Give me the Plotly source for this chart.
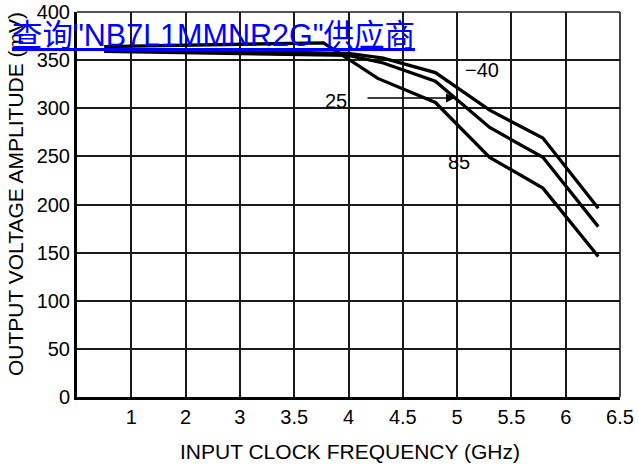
import numpy as np
import plotly.graph_objects as go

# ---- data ----
TICK_GHZ = [0, 1, 2, 3, 3.5, 4, 4.5, 5, 5.5, 6, 6.5]
TICK_LABELS = ["1", "2", "3", "3.5", "4", "4.5", "5", "5.5", "6", "6.5"]

freq_m40 = [0.5, 4.0, 4.32, 4.8, 5.3, 5.79, 6.3]
amp_m40 = [361, 357, 352, 337, 298, 269, 196]

freq_25 = [0.5, 4.0, 4.32, 4.8, 5.3, 5.79, 6.3]
amp_25 = [359, 355, 347, 328, 280, 249, 177]

freq_85 = [0.5, 3.77, 4.27, 4.8, 5.3, 5.79, 6.3]
amp_85 = [364, 368, 331, 306, 249, 217, 146]

Y_TICKS = [0, 50, 100, 150, 200, 250, 300, 350, 400]

POS = list(range(len(TICK_GHZ)))


def to_axis(f):
    # the chart's frequency axis is not linear: each labelled gridline is one step
    return np.interp(f, TICK_GHZ, POS)


W, H = 639, 468
L, R, T, B = 77, 19, 12, 71
PW, PH = W - L - R, H - T - B


def xp(px):
    return (px - L) / PW


def yp(py):
    return (H - B - py) / PH


FONT = "Liberation Sans, Arial, Helvetica, sans-serif"

fig = go.Figure()
for f, a, name in [(freq_m40, amp_m40, "-40"), (freq_25, amp_25, "25"), (freq_85, amp_85, "85")]:
    fig.add_trace(go.Scatter(x=to_axis(f), y=a, mode="lines", name=name,
                             line=dict(color="black", width=3.3), showlegend=False,
                             hoverinfo="skip"))

fig.update_layout(
    width=W, height=H,
    margin=dict(l=L, r=R, t=T, b=B, pad=0, autoexpand=False),
    paper_bgcolor="white", plot_bgcolor="white",
    font=dict(family=FONT, color="black", size=20),
    xaxis=dict(range=[0, 10], tickmode="array", tickvals=POS[1:], ticktext=TICK_LABELS,
               showgrid=True, gridcolor="#1a1a1a", gridwidth=1.6, zeroline=False,
               showline=True, linecolor="black", linewidth=3, ticks="",
               tickfont=dict(size=20), fixedrange=True, automargin=False),
    yaxis=dict(range=[0, 400], tickmode="array", tickvals=Y_TICKS,
               showgrid=True, gridcolor="#1a1a1a", gridwidth=1.6, zeroline=False,
               showline=True, linecolor="black", linewidth=3, ticks="",
               tickfont=dict(size=20), fixedrange=True, automargin=False),
)

# frame (top and right)
fig.add_shape(type="line", xref="paper", yref="paper", x0=0, x1=1, y0=1, y1=1,
              line=dict(color="#1a1a1a", width=1.6), layer="between")
fig.add_shape(type="line", xref="paper", yref="paper", x0=1, x1=1, y0=0, y1=1,
              line=dict(color="#1a1a1a", width=1.6), layer="between")

# white label boxes breaking the grid
for (x0, x1, y0, y1) in [(450, 512, 55, 85), (305, 366, 85, 118), (429, 488, 132, 180)]:
    fig.add_shape(type="rect", xref="paper", yref="paper",
                  x0=xp(x0), x1=xp(x1), y0=yp(y1), y1=yp(y0),
                  fillcolor="white", line=dict(width=0), layer="between")

# curve labels
for txt, px, py in [("\u221240", 482, 70), ("25", 336, 101), ("85", 459, 162)]:
    fig.add_annotation(text=txt, xref="paper", yref="paper", x=xp(px), y=yp(py),
                       showarrow=False, font=dict(size=20, family=FONT),
                       xanchor="center", yanchor="middle")

# arrow from "25" to its curve
fig.add_annotation(x=xp(455), y=yp(98), ax=xp(366), ay=yp(98),
                   xref="x domain", yref="y domain", axref="x domain", ayref="y domain",
                   text="", showarrow=True, arrowhead=2, arrowsize=1.2,
                   arrowwidth=1.5, arrowcolor="black")

# axis titles
fig.add_annotation(text="INPUT CLOCK FREQUENCY (GHz)", xref="paper", yref="paper",
                   x=xp(350), y=yp(451), showarrow=False, font=dict(size=21, family=FONT),
                   xanchor="center", yanchor="middle")
fig.add_annotation(text="OUTPUT VOLTAGE AMPLITUDE (mV)", xref="paper", yref="paper",
                   x=xp(15), y=yp(194), showarrow=False, textangle=-90,
                   font=dict(size=21, family=FONT), xanchor="center", yanchor="middle")

# overlay link text
fig.add_annotation(text="<u>查询\"NB7L1MMNR2G\"供应商</u>", xref="paper", yref="paper",
                   x=xp(10), y=yp(35), showarrow=False,
                   font=dict(size=30.5, color="#0000ff",
                             family="Liberation Sans, Arial, Noto Sans CJK SC, sans-serif"),
                   xanchor="left", yanchor="middle")

fig.write_html("out.html", config={"displayModeBar": False},
               post_script="document.body.style.margin='0';document.body.style.overflow='hidden';")
